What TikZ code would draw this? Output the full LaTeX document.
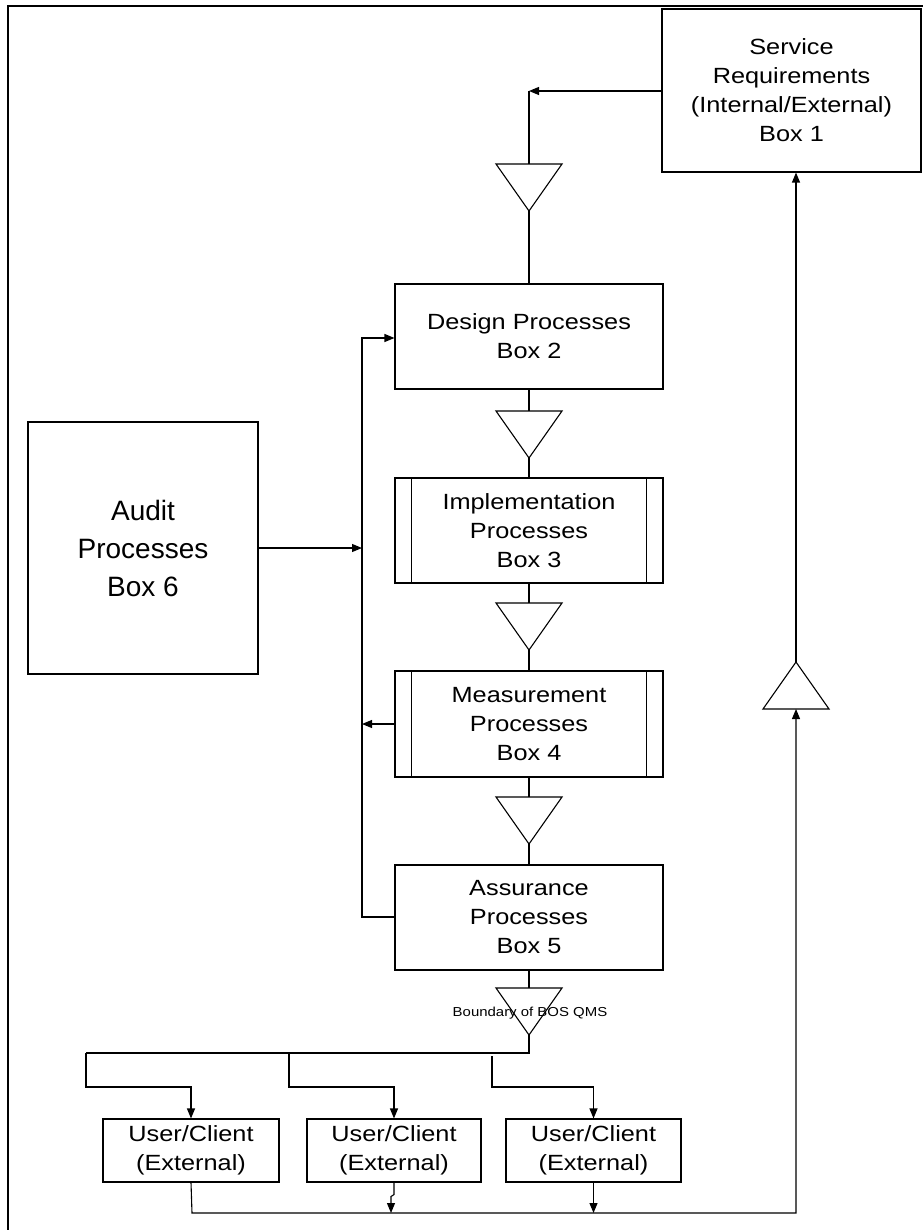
\documentclass[tikz,border=0pt]{standalone}
\usepackage{fontspec}
\setmainfont{Liberation Sans}
\newfontfamily\boxfont{Liberation Sans}[FakeStretch=1.15]
\usetikzlibrary{positioning,arrows.meta}

\tikzset{
  box/.style={draw, line width=1.1pt, inner sep=0pt, align=center,
    font=\boxfont\fontsize{22}{29}\selectfont},
  flow/.style={line width=1.1pt},
  arr/.style={flow, -{Triangle[length=10pt,width=8pt]}},
}

\begin{document}
\begin{tikzpicture}[x=1pt, y=-1pt]
	\useasboundingbox (0,0) rectangle (922,1230);
	\draw[line width=2.4pt] (8,1240) -- (8,6) -- (930,6);

	% process boxes
	\node[box, minimum width=259, minimum height=163] (req) at (791.5,90.5) {Service\\Requirements\\(Internal/External)\\Box 1};
	\node[box, minimum width=268, minimum height=105] (design) at (529,336.5) {Design Processes\\Box 2};
	\node[box, minimum width=268, minimum height=105] (impl) at (529,530.5) {Implementation\\Processes\\Box 3};
	\node[box, minimum width=268, minimum height=106] (meas) at (529,724) {Measurement\\Processes\\Box 4};
	\node[box, minimum width=268, minimum height=105] (assur) at (529,917.5) {Assurance\\Processes\\Box 5};
	\node[box, minimum width=230, minimum height=252, font=\fontsize{28}{38}\selectfont] (audit) at (143,548) {Audit\\Processes\\Box 6};

	\node[box, minimum width=176, minimum height=63] (user1) at (191,1150.5) {User/Client\\(External)};
	\node[box, minimum width=174, minimum height=63] (user2) at (394,1150.5) {User/Client\\(External)};
	\node[box, minimum width=175, minimum height=63] (user3) at (593.5,1150.5) {User/Client\\(External)};

	% side bars
	\foreach \b in {impl,meas} {
		\draw[flow] ([xshift=17pt]\b.north west) -- ([xshift=17pt]\b.south west);
		\draw[flow] ([xshift=-17pt]\b.north east) -- ([xshift=-17pt]\b.south east);
	}

	% triangles
	\foreach \n/\t in {1/164,2/411,3/603,4/797,5/988} {
		\draw[flow] (496,\t) -- (562,\t) -- (529,\t+47) -- cycle;
		\coordinate (v\n-in) at (529,\t);
		\coordinate (v\n-out) at (529,\t+47);
	}
	\draw[flow] (763,709) -- (829,709) -- (796,662) -- cycle;
	\coordinate (vu-in) at (796,709);
	\coordinate (vu-out) at (796,662);

	\node[font=\boxfont\fontsize{13}{15}\selectfont] (bound) at (530,1013) {Boundary of BOS QMS};

	% main chain
	\coordinate (top) at (529,91);
	\draw[arr] (req.west |- top) -- (top);
	\draw[flow] (top) -- (v1-in);
	\draw[flow] (v1-out) -- (design.north);
	\draw[flow] (design.south) -- (v2-in);
	\draw[flow] (v2-out) -- (impl.north);
	\draw[flow] (impl.south) -- (v3-in);
	\draw[flow] (v3-out) -- (meas.north);
	\draw[flow] (meas.south) -- (v4-in);
	\draw[flow] (v4-out) -- (assur.north);
	\draw[flow] (assur.south) -- (v5-in);

	% feedback loop
	\coordinate (fb1) at (362,917);
	\coordinate (fb2) at (362,338);
	\draw[arr] (assur.west |- fb1) -- (fb1) -- (fb2) -- (design.west |- fb2);
	\draw[arr] (meas.west) -- (meas.west -| fb1);
	\draw[arr] (audit.east) -- (audit.east -| fb1);

	% to the users
	\coordinate (split) at (529,1053);
	\coordinate (sp1) at (86,1053);
	\coordinate (sp2) at (289,1053);
	\coordinate (sp3) at (492,1056);
	\draw[flow] (v5-out) -- (split) -- (sp1);
	\draw[arr] (sp1) -- (86,1087) -| (user1.north);
	\draw[arr] (sp2) -- (289,1087) -| (user2.north);
	\draw[arr] (sp3) -- (492,1087) -| (user3.north);

	% back to box 1
	\coordinate (ret1) at (192,1213);
	\coordinate (ret2) at (796,1213);
	\draw[arr] (user1.south) -- (ret1) -- (ret2) -- (vu-in);
	\draw[arr] (user2.south) -- ++(0,12) -- ++(-3,2) -- (391,1213);
	\draw[arr] (user3.south) -- (user3.south |- ret1);
	\draw[arr] (vu-out) -- (vu-out |- req.south);
\end{tikzpicture}
\end{document}
